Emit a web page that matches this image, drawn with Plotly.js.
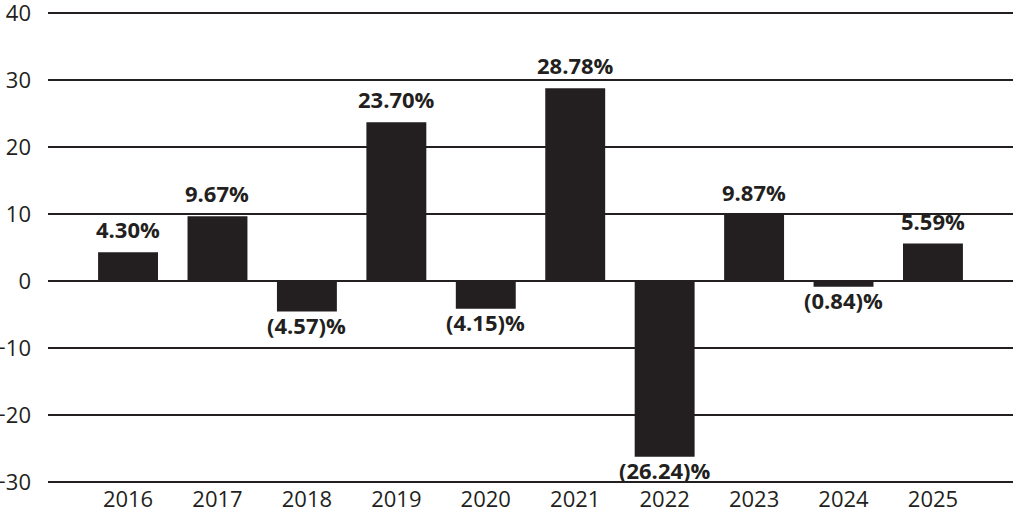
<!DOCTYPE html>
<html>
<head>
<meta charset="utf-8">
<script src="https://cdn.plot.ly/plotly-3.0.1.min.js"></script>
<style>
  html, body { margin: 0; padding: 0; background: #fff; }
  #chart { width: 1013px; height: 522px; }
</style>
</head>
<body>
<div id="chart"></div>
<script>
// Annual returns, in percent
const years = ['2016', '2017', '2018', '2019', '2020', '2021', '2022', '2023', '2024', '2025'];
const returns = [4.30, 9.67, -4.57, 23.70, -4.15, 28.78, -26.24, 9.87, -0.84, 5.59];
const yTicks = [-30, -20, -10, 0, 10, 20, 30, 40];

// Negative returns are shown in parentheses, e.g. (4.57)%
function fmt(v) {
  const s = Math.abs(v).toFixed(2);
  return v < 0 ? '(' + s + ')%' : s + '%';
}

const ink = '#231f20';
const family = '"Open Sans", Lato, sans-serif';
const idx = years.map((_, i) => i);

const trace = {
  type: 'bar',
  x: idx,
  y: returns,
  width: 0.67,
  marker: { color: ink, line: { width: 0 } },
  hoverinfo: 'skip'
};

// Value labels: above positive bars, below negative ones
const labels = returns.map((v, i) => ({
  x: i,
  y: v,
  xref: 'x',
  yref: 'y',
  text: fmt(v),
  showarrow: false,
  xanchor: 'center',
  yanchor: v < 0 ? 'top' : 'bottom',
  yshift: v < 0 ? 4 : 6,
  font: { family: family, size: 22, color: ink, weight: 700 }
}));

const layout = {
  width: 1013,
  height: 522,
  margin: { l: 48, r: 0, t: 11, b: 38 },
  paper_bgcolor: '#ffffff',
  plot_bgcolor: '#ffffff',
  showlegend: false,
  font: { family: family, color: ink },
  annotations: labels,
  xaxis: {
    range: [-0.895, 9.895],
    tickvals: idx,
    ticktext: years,
    showgrid: false,
    zeroline: false,
    showline: false,
    ticks: '',
    tickfont: { size: 22, color: ink },
    automargin: false,
    fixedrange: true
  },
  yaxis: {
    range: [-30.3, 40.3],
    tickvals: yTicks,
    showgrid: true,
    gridcolor: ink,
    gridwidth: 2,
    zeroline: true,
    zerolinecolor: ink,
    zerolinewidth: 2,
    showline: false,
    ticks: '',
    ticklabelstandoff: 16,
    ticklabeloverflow: 'allow',
    tickfont: { size: 22, color: ink },
    automargin: false,
    fixedrange: true
  }
};

Plotly.newPlot('chart', [trace], layout, { displayModeBar: false, staticPlot: true });
</script>
</body>
</html>
